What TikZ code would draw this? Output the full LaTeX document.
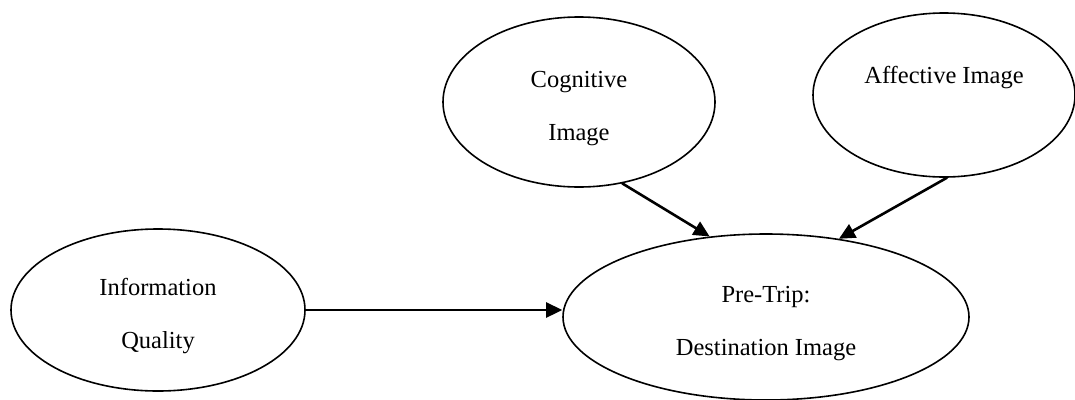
\documentclass[tikz,border=0pt]{standalone}
\usepackage{fontspec}
\setmainfont{Liberation Serif}
\usetikzlibrary{arrows.meta,shapes.geometric}
\newcommand\topgap{\rule{0pt}{29pt}}

\begin{document}
\begin{tikzpicture}[
  x=1pt, y=-1pt, >={Triangle[length=16pt,width=15pt]}, line cap=round, line join=round,
  construct/.style={ellipse, draw, line width=1.6pt, inner sep=0pt, align=center,
    font=\fontsize{24.5}{53}\selectfont},
  link/.style={->, line width=2.6pt}]
\useasboundingbox (0,0) rectangle (1075,399);

% ---------------------------------------------------------------- constructs
\node[construct, minimum width=294pt, minimum height=162pt] (info) at (158,310)
  {\topgap Information\\Quality};
\node[construct, minimum width=272pt, minimum height=170pt] (cog) at (579,102)
  {\topgap Cognitive\\Image};
\node[construct, minimum width=262pt, minimum height=164pt] (aff) at (944,95)
  {\topgap Affective Image\\\mbox{}};
\node[construct, minimum width=406pt, minimum height=166pt] (pre) at (766,317)
  {\topgap Pre-Trip:\\Destination Image};

% ---------------------------------------------------------------- paths
\draw[link] (info.east) -- (info.east -| pre.west);
\draw[link] (cog.-62) -- (pre.125);
\draw[link] (aff.-88) -- (pre.47);

\end{tikzpicture}
\end{document}
